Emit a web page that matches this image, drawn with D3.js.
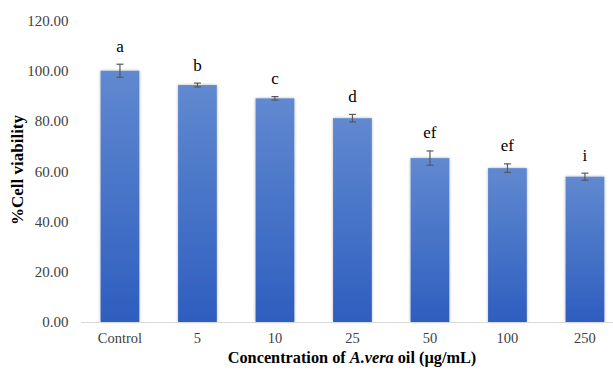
<!DOCTYPE html>
<html><head><meta charset="utf-8">
<script src="https://cdn.jsdelivr.net/npm/d3@7/dist/d3.min.js"></script>
<style>body{margin:0;background:#fff;} svg{display:block;} svg text{font-family:"Liberation Serif","Times New Roman",serif;}</style>
</head><body>
<svg id="c" width="613" height="371"></svg>
<script>
const categories = ["Control","5","10","25","50","100","250"];
const values = [100.1, 94.4, 89.1, 81.2, 65.3, 61.3, 57.9];
const errors = [2.6, 0.8, 0.7, 1.5, 2.85, 1.7, 1.4];
const letters = ["a","b","c","d","ef","ef","i"];
const yTicks = [0,20,40,60,80,100,120];

const svg = d3.select("#c");
const x = d3.scaleBand().domain(categories).range([81.2, 623.7]).paddingInner(0.5).paddingOuter(0.25);
const y = d3.scaleLinear().domain([0,120]).range([322, 20.8]);

const defs = svg.append("defs");
const g = defs.append("linearGradient").attr("id","bg").attr("x1",0).attr("y1",0).attr("x2",0).attr("y2",1);
g.append("stop").attr("offset","0%").attr("stop-color","#6189d0");
g.append("stop").attr("offset","100%").attr("stop-color","#2e5ebf");
const f = defs.append("filter").attr("id","sh").attr("x","-20%").attr("y","-5%").attr("width","140%").attr("height","110%");
f.append("feDropShadow").attr("dx",0).attr("dy",0).attr("stdDeviation",1.6).attr("flood-color","#000").attr("flood-opacity",0.3);

// y axis labels
svg.append("g").selectAll("text").data(yTicks).join("text")
  .attr("x", 68.5).attr("y", d => y(d)).attr("dy","0.35em")
  .attr("text-anchor","end").style("font-size","15px").attr("fill","#404040")
  .text(d => d.toFixed(2));

// bars
svg.append("g").selectAll("rect").data(values).join("rect")
  .attr("x",(d,i)=>x(categories[i])).attr("width",x.bandwidth())
  .attr("y",d=>y(d)).attr("height",d=>y(0)-y(d))
  .attr("fill","url(#bg)").attr("filter","url(#sh)");

// axis line
svg.append("line").attr("x1",81).attr("x2",613).attr("y1",y(0)+0.5).attr("y2",y(0)+0.5)
  .attr("stroke","#d9d9d9").attr("stroke-width",1.2);

// error bars
const eb = svg.append("g").attr("stroke","#595959").attr("stroke-width",1.2);
values.forEach((v,i)=>{
  const cx = x(categories[i]) + x.bandwidth()/2;
  eb.append("line").attr("x1",cx).attr("x2",cx).attr("y1",y(v+errors[i])).attr("y2",y(v-errors[i]));
  eb.append("line").attr("x1",cx-3.5).attr("x2",cx+3.5).attr("y1",y(v+errors[i])).attr("y2",y(v+errors[i]));
  eb.append("line").attr("x1",cx-3.5).attr("x2",cx+3.5).attr("y1",y(v-errors[i])).attr("y2",y(v-errors[i]));
});

// letters
svg.append("g").selectAll("text").data(letters).join("text")
  .attr("x",(d,i)=>x(categories[i])+x.bandwidth()/2)
  .attr("y",(d,i)=>y(values[i]+errors[i])-12.5)
  .attr("text-anchor","middle").style("font-size","17px").attr("fill","#000")
  .text(d=>d);

// x labels
svg.append("g").selectAll("text").data(categories).join("text")
  .attr("x",d=>x(d)+x.bandwidth()/2).attr("y",343)
  .attr("text-anchor","middle").style("font-size","14.5px").attr("fill","#404040")
  .text(d=>d);

// x title
const xt = svg.append("text").attr("x",352).attr("y",363).attr("text-anchor","middle")
  .style("font-size","16.3px").attr("font-weight","bold").attr("fill","#000");
xt.append("tspan").text("Concentration of ");
xt.append("tspan").attr("font-style","italic").text("A.vera");
xt.append("tspan").text(" oil (µg/mL)");

// y title
svg.append("text").attr("transform","translate(23,170) rotate(-90)").attr("text-anchor","middle")
  .style("font-size","17px").attr("font-weight","bold").attr("fill","#000")
  .text("%Cell viability");
</script>
</body></html>
